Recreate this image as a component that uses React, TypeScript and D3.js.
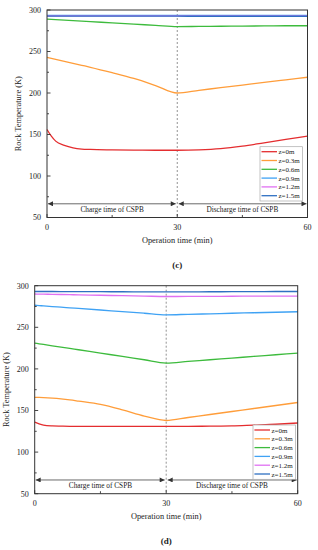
import React from 'react';
import * as d3 from 'd3';

// time axis (min) shared by every series
const times = [0, 1, 2, 4, 6, 8, 10, 15, 20, 25, 30, 35, 40, 45, 50, 55, 60];
const labels = ['z=0m', 'z=0.3m', 'z=0.6m', 'z=0.9m', 'z=1.2m', 'z=1.5m'];
const colors = ['#e42d2f', '#ff9d3a', '#3dbb3d', '#3fa2f4', '#e070f2', '#2f70c2'];
const yTicks = [50, 100, 150, 200, 250, 300];
const yMinor = [75, 125, 175, 225, 275];
const xTicks = [0, 30, 60];
const xMinor = [15, 45];

// panel (c)
const cZ0 = [156, 148, 142, 137, 134, 132.5, 132, 131.5, 131.2, 131, 131, 131.5, 133, 136, 140, 144, 148];
const cZ03 = [243, 241.8, 240.6, 238.2, 235.8, 233.4, 231, 224.5, 217.5, 209, 200, 203.2, 206.4, 209.6, 212.8, 215.9, 219];
const cZ06 = [289, 288.7, 288.4, 287.8, 287.2, 286.6, 286, 284.5, 283, 281.5, 280, 280.2, 280.4, 280.6, 280.8, 281, 281];
const cZ09 = [293.6, 293.6, 293.6, 293.6, 293.6, 293.6, 293.6, 293.6, 293.6, 293.6, 293.5, 293.5, 293.5, 293.5, 293.5, 293.5, 293.5];
const cZ12 = [293, 293, 293, 293, 293, 293, 293, 293, 293, 293, 293, 293, 293, 293, 293, 293, 293];
const cZ15 = [292.6, 292.6, 292.6, 292.6, 292.6, 292.6, 292.6, 292.6, 292.6, 292.6, 292.5, 292.5, 292.5, 292.5, 292.5, 292.5, 292.5];

// panel (d)
const dZ0 = [136, 134, 132.5, 131.5, 131.2, 131, 131, 131, 131, 131, 131, 131, 131.2, 131.5, 132.5, 133.5, 135];
const dZ03 = [165.8, 165.7, 165.5, 164.9, 164, 162.8, 161.3, 157.3, 150.8, 143.3, 138, 141.6, 145.2, 148.8, 152.4, 156, 159.6];
const dZ06 = [231, 230.2, 229.4, 227.8, 226.2, 224.6, 223, 219, 215, 211, 207, 209, 211, 213, 215, 217, 219];
const dZ09 = [276.5, 276.1, 275.7, 274.9, 274.2, 273.4, 272.7, 270.8, 268.8, 266.9, 265, 265.6, 266.2, 266.9, 267.5, 268.1, 268.7];
const dZ12 = [290, 289.9, 289.8, 289.6, 289.4, 289.2, 289, 288.5, 288, 287.5, 287, 287.1, 287.2, 287.3, 287.4, 287.5, 287.5];
const dZ15 = [293, 293, 293, 293, 292.9, 292.9, 292.9, 292.8, 292.7, 292.6, 292.5, 292.6, 292.7, 292.8, 292.9, 293, 293];

const font = '"Liberation Serif", "Times New Roman", serif';

type PanelProps = {
  series: number[][];
  left: number;
  right: number;
  top: number;
  bottom: number;
  legendX: number;
  legendY: number;
  yLabelX: number;
  tag: string;
};

function Panel({ series, left, right, top, bottom, legendX, legendY, yLabelX, tag }: PanelProps) {
  const x = d3.scaleLinear().domain([0, 60]).range([left, right]);
  const y = d3.scaleLinear().domain([50, 300]).range([bottom, top]);
  const line = d3
    .line<number>()
    .x((_, i) => x(times[i]))
    .y((d) => y(d))
    .curve(d3.curveMonotoneX);

  const arrowY = y(66.5);
  const rowH = 8.8;

  return (
    <g fontFamily={font} fill="#222">
      {/* vertical dashed divider at t=30 */}
      <line x1={x(30)} x2={x(30)} y1={top} y2={bottom} stroke="#777" strokeDasharray="2,2" strokeWidth={0.8} />

      {series.map((s, i) => (
        <path key={i} d={line(s) || ''} fill="none" stroke={colors[i]} strokeWidth={1.3} />
      ))}

      {/* charge / discharge arrows */}
      <line x1={x(0) + 1} x2={x(30) - 1.5} y1={arrowY} y2={arrowY} stroke="#444" strokeWidth={0.8}
        markerStart="url(#arrL)" markerEnd="url(#arrR)" />
      <line x1={x(30) + 1.5} x2={x(60) - 1} y1={arrowY} y2={arrowY} stroke="#444" strokeWidth={0.8}
        markerStart="url(#arrL)" markerEnd="url(#arrR)" />
      <text x={(x(0) + x(30)) / 2} y={arrowY + 8} fontSize={7.3} textAnchor="middle">Charge time of CSPB</text>
      <text x={(x(30) + x(60)) / 2} y={arrowY + 8} fontSize={7.3} textAnchor="middle">Discharge time of CSPB</text>

      {/* legend */}
      <rect x={legendX} y={legendY} width={42.5} height={rowH * 6 + 1.5} fill="#fff" stroke="#aaa" strokeWidth={0.7} />
      {labels.map((l, i) => (
        <g key={l}>
          <line x1={legendX + 1.5} x2={legendX + 17} y1={legendY + 5 + i * rowH} y2={legendY + 5 + i * rowH}
            stroke={colors[i]} strokeWidth={1.3} />
          <text x={legendX + 18.5} y={legendY + 7.5 + i * rowH} fontSize={7}>{l}</text>
        </g>
      ))}

      {/* frame */}
      <rect x={left} y={top} width={right - left} height={bottom - top} fill="none" stroke="#333" strokeWidth={1} />

      {yTicks.map((t) => (
        <g key={t}>
          <line x1={left} x2={left + 3.5} y1={y(t)} y2={y(t)} stroke="#333" strokeWidth={0.9} />
          <text x={left - 6} y={y(t) + 2.8} fontSize={8} textAnchor="end">{t}</text>
        </g>
      ))}
      {yMinor.map((t) => (
        <line key={t} x1={left} x2={left + 2} y1={y(t)} y2={y(t)} stroke="#333" strokeWidth={0.9} />
      ))}
      {xTicks.map((t) => (
        <g key={t}>
          <line x1={x(t)} x2={x(t)} y1={bottom} y2={bottom - 3.5} stroke="#333" strokeWidth={0.9} />
          <text x={x(t)} y={bottom + 12} fontSize={8} textAnchor="middle">{t}</text>
        </g>
      ))}
      {xMinor.map((t) => (
        <line key={t} x1={x(t)} x2={x(t)} y1={bottom} y2={bottom - 2.5} stroke="#333" strokeWidth={0.9} />
      ))}

      <text x={(left + right) / 2} y={bottom + 25.5} fontSize={8.3} textAnchor="middle">Operation time (min)</text>
      <text transform={`translate(${yLabelX},${(top + bottom) / 2}) rotate(-90)`} fontSize={8.3} textAnchor="middle">
        Rock Temperature (K)
      </text>
      <text x={(left + right) / 2} y={bottom + 50} fontSize={9} fontWeight="bold" textAnchor="middle">{tag}</text>
    </g>
  );
}

export default function App() {
  return (
    <svg width={318} height={550} style={{ position: 'absolute', left: 0, top: 0, background: '#fff' }}>
      <defs>
        <marker id="arrR" viewBox="0 0 10 10" refX={10} refY={5} markerWidth={6} markerHeight={5} orient="auto"
          markerUnits="userSpaceOnUse">
          <path d="M0,0 L10,5 L0,10 z" fill="#333" />
        </marker>
        <marker id="arrL" viewBox="0 0 10 10" refX={0} refY={5} markerWidth={6} markerHeight={5} orient="auto"
          markerUnits="userSpaceOnUse">
          <path d="M10,0 L0,5 L10,10 z" fill="#333" />
        </marker>
      </defs>
      <rect width={318} height={550} fill="#fff" />
      <Panel series={[cZ0, cZ03, cZ06, cZ09, cZ12, cZ15]} left={47} right={307.5} top={10} bottom={217.5}
        legendX={260} legendY={146.7} yLabelX={21} tag="(c)" />
      <Panel series={[dZ0, dZ03, dZ06, dZ09, dZ12, dZ15]} left={34.7} right={297.7} top={285.7} bottom={493.7}
        legendX={253} legendY={425} yLabelX={9} tag="(d)" />
    </svg>
  );
}
